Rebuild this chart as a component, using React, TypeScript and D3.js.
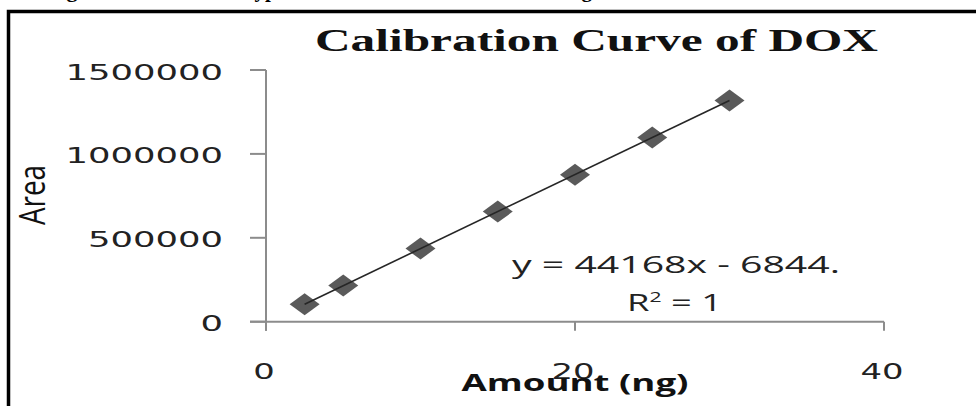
import React from "react"
import * as d3 from "d3"

// calibration data
const amounts = [2.5, 5, 10, 15, 20, 25, 30]
const areas = [104000, 215000, 436000, 656000, 876000, 1098000, 1318000]
const xTicks = [0, 20, 40]
const yTicks = [0, 500000, 1000000, 1500000]
const chartTitle = "Calibration Curve of DOX"
const xTitle = "Amount (ng)"
const yTitle = "Area"
const equationText = "y = 44168x - 6844."
const r2Text = "1"
const captionParts = ["Figure 3:", "Typical calibration curve of DOX in ng"]

function linearRegression(xs: number[], ys: number[]) {
  const n = xs.length
  let sx = 0, sy = 0, sxy = 0, sxx = 0
  for (let i = 0; i < n; i++) {
    sx += xs[i]
    sy += ys[i]
    sxy += xs[i] * ys[i]
    sxx += xs[i] * xs[i]
  }
  const slope = (n * sxy - sx * sy) / (n * sxx - sx * sx)
  const intercept = (sy - slope * sx) / n
  return (v: number) => slope * v + intercept
}

export default function App() {
  const width = 976
  const height = 406
  const x = d3.scaleLinear().domain([0, 40]).range([266, 884])
  const y = d3.scaleLinear().domain([0, 1500000]).range([321.7, 70])
  const axisColor = "#8c8c8c"

  const fit = linearRegression(amounts, areas)
  const [xmin, xmax] = d3.extent(amounts) as [number, number]
  const trend = d3.line<number>().x(d => x(d)).y(d => y(fit(d)))([xmin, xmax])

  return (
    <svg
      width={width}
      height={height}
      style={{ position: "absolute", left: 0, top: 0, background: "#fff" }}
    >
      {/* caption of the page, cut off at the top */}
      <text fontFamily="Liberation Serif" fontWeight="bold" fontSize={22} y={-3} fill="#000">
        <tspan x={47}>{captionParts[0]}</tspan>
        <tspan x={242} textLength={350} lengthAdjust="spacingAndGlyphs">{captionParts[1]}</tspan>
      </text>

      {/* frame */}
      <path d={`M8.5,${height + 5}V11.5H${width + 5}`} fill="none" stroke="#000" strokeWidth={3.5} />

      <text
        x={315}
        y={51}
        fontFamily="Liberation Serif"
        fontWeight="bold"
        fontSize={31}
        textLength={563}
        lengthAdjust="spacingAndGlyphs"
        fill="#111"
      >
        {chartTitle}
      </text>

      {/* y axis */}
      <line x1={x(0)} x2={x(0)} y1={y(1500000)} y2={y(0) + 9} stroke={axisColor} strokeWidth={2} />
      {yTicks.map(t => (
        <g key={"y" + t}>
          <line x1={250} x2={x(0)} y1={y(t)} y2={y(t)} stroke={axisColor} strokeWidth={2} />
          <text
            x={223}
            y={y(t) + 9.5}
            textAnchor="end"
            fontFamily="DejaVu Sans"
            fontSize={21}
            textLength={String(t).length * 22.5}
            lengthAdjust="spacingAndGlyphs"
            fill="#222"
          >
            {t}
          </text>
        </g>
      ))}

      {/* x axis */}
      <line x1={250} x2={x(40)} y1={y(0)} y2={y(0)} stroke={axisColor} strokeWidth={2} />
      {xTicks.map(t => (
        <g key={"x" + t}>
          <line x1={x(t)} x2={x(t)} y1={y(0)} y2={y(0) + 9} stroke={axisColor} strokeWidth={2} />
          <text
            x={x(t) - 2}
            y={379}
            textAnchor="middle"
            fontFamily="DejaVu Sans"
            fontSize={22}
            textLength={String(t).length * 21.5}
            lengthAdjust="spacingAndGlyphs"
            fill="#222"
          >
            {t}
          </text>
        </g>
      ))}

      {/* points */}
      {amounts.map((a, i) => {
        const cx = x(a)
        const cy = y(areas[i])
        return (
          <path
            key={"p" + i}
            d={`M${cx - 15},${cy}L${cx},${cy - 11}L${cx + 15},${cy}L${cx},${cy + 11}Z`}
            fill="#5a5a5a"
          />
        )
      })}

      {/* trendline */}
      <path d={trend || ""} fill="none" stroke="#262626" strokeWidth={1.6} />

      {/* equation */}
      <text
        x={512}
        y={273}
        fontFamily="Open Sans"
        fontSize={24}
        textLength={328}
        lengthAdjust="spacingAndGlyphs"
        fill="#222"
      >
        {equationText}
      </text>
      <text
        x={627}
        y={311}
        fontFamily="Open Sans"
        fontSize={24}
        textLength={95}
        lengthAdjust="spacingAndGlyphs"
        fill="#222"
      >
        R<tspan dy={-9} fontSize={14}>2</tspan><tspan dy={9}> = {r2Text}</tspan>
      </text>

      {/* axis titles */}
      <text
        x={575}
        y={391}
        textAnchor="middle"
        fontFamily="Open Sans"
        fontWeight="bold"
        fontSize={23}
        textLength={227}
        lengthAdjust="spacingAndGlyphs"
        fill="#111"
      >
        {xTitle}
      </text>
      <text
        transform="translate(45,195) scale(1.5,1) rotate(-90)"
        textAnchor="middle"
        fontFamily="Open Sans"
        fontSize={24}
        textLength={60}
        lengthAdjust="spacingAndGlyphs"
        fill="#111"
      >
        {yTitle}
      </text>
    </svg>
  )
}
